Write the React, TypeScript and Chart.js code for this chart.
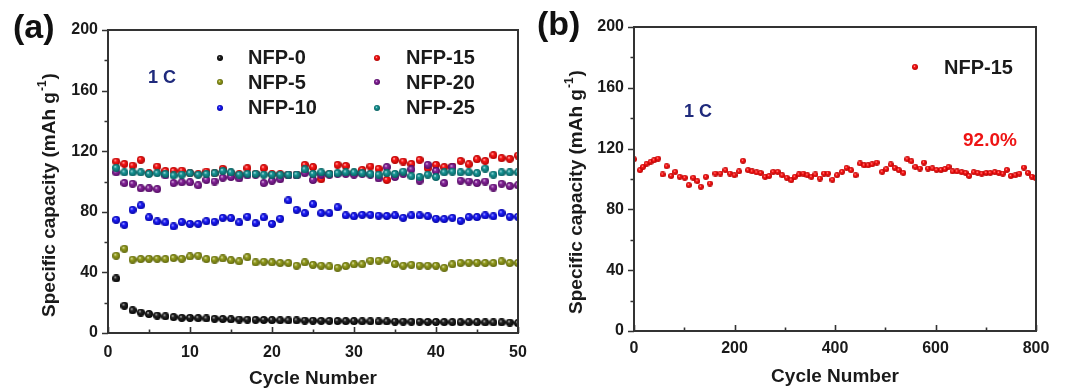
import { useEffect, useRef } from "react";
import { Chart, registerables } from "chart.js";

Chart.register(...registerables);

const FONT = '"Liberation Sans", Arial, Helvetica, sans-serif';
const TEXT = "#1a1a1a";

// ---------- Panel (a): capacity vs cycle for six samples ----------
const cyclesA = [
  1, 2, 3, 4, 5, 6, 7, 8, 9, 10, 11, 12, 13, 14, 15, 16, 17, 18, 19, 20, 21, 22, 23, 24, 25,
  26, 27, 28, 29, 30, 31, 32, 33, 34, 35, 36, 37, 38, 39, 40, 41, 42, 43, 44, 45, 46, 47, 48, 49, 50,
];
const nfp0 = [
  36, 18, 15, 13.5, 12.5, 11.5, 11, 10.5, 10, 10, 9.8, 9.6, 9.4, 9.2, 9, 8.9, 8.8, 8.7, 8.6, 8.5,
  8.4, 8.3, 8.3, 8.2, 8.1, 8, 8, 7.9, 7.8, 7.8, 7.7, 7.7, 7.6, 7.6, 7.5, 7.5, 7.4, 7.4, 7.3, 7.3,
  7.2, 7.2, 7.1, 7.1, 7.1, 7, 7, 7, 6.9, 6.5,
];
const nfp5 = [
  51, 55.6, 48.4, 48.8, 49, 49, 48.8, 49.5, 49, 50.5, 51, 48.8, 48.4, 49.2, 48, 47.3, 50, 46.6, 47, 46.6,
  46.2, 46.2, 44.4, 46.6, 45, 44.4, 44, 43, 44.2, 45.3, 45.3, 47.7, 47.7, 48.4, 45.5, 44.4, 45, 44.4, 44.4, 44.4,
  43, 45.3, 46.2, 46.4, 46.4, 46.2, 46.2, 47.3, 46.2, 46.2,
];
const nfp10 = [
  74.7, 71.4, 81.3, 84.2, 76.3, 73.6, 73, 70.3, 73.2, 72, 72, 73.8, 73.4, 76, 75.8, 73, 76.7, 72.5, 76.3, 72,
  75.4, 87.5, 81.3, 79.1, 85, 79.1, 79.1, 83, 77.6, 77, 78, 78, 77.4, 77.2, 77.6, 76, 77.6, 77.6, 77.1, 75.4,
  75.2, 76, 74, 76.5, 76.5, 77.6, 77, 79.1, 76.7, 76.7,
];
const nfp15 = [
  113.2, 111.6, 110.5, 114.3, 105.5, 109.9, 107, 107, 107.2, 105.5, 104.8, 106.6, 105.5, 108.4, 105.5, 104.8, 108.8, 105, 108.8, 104.8,
  104.8, 104.5, 104.5, 111, 109.5, 101.5, 104.8, 111, 110.3, 105.5, 107.7, 109.9, 108.4, 101, 114.3, 113.2, 111.6, 114.3, 108.8, 111,
  109.5, 109.9, 113.6, 111.4, 114.7, 113.6, 117.4, 115.4, 115, 117.1,
];
const nfp20 = [
  106, 99, 98.5, 95.5, 95.5, 95, 104, 99, 99.5, 99.5, 97.5, 101, 100, 102.5, 103, 102, 104, 104.5, 99, 100.5,
  101.5, 104, 104, 105.5, 101, 104.5, 104.5, 105, 105, 104.5, 105, 104.5, 102, 109.5, 103, 105, 108, 100.5, 111, 107,
  99, 109.5, 100.5, 100, 99, 100, 96, 98.5, 97, 97.5,
];
const nfp25 = [
  109, 106, 106, 106, 105, 105.5, 105, 104, 104.5, 105.5, 104.5, 105, 105.5, 107, 106, 104.5, 105, 105, 104.5, 104.5,
  104.5, 104.5, 104.5, 108, 105, 106, 105, 105.5, 106, 106, 105.5, 105, 104.5, 105.5, 105, 106.5, 103.5, 103, 104.5, 103,
  106, 106.5, 106, 106, 105.5, 108.5, 104.5, 106, 106, 106,
];
const labelsA = ["NFP-0", "NFP-5", "NFP-10", "NFP-15", "NFP-20", "NFP-25"];

// ---------- Panel (b): long cycling of NFP-15 ----------
const cyclesB = [
  0, 12, 18, 25, 33, 40, 48, 57, 65, 74, 82, 91, 101, 109, 118, 126, 133, 143, 151, 162, 172, 182, 191, 200,
  209, 217, 227, 235, 244, 252, 261, 269, 277, 286, 295, 304, 313, 320, 328, 337, 345, 353, 361, 370, 378, 386,
  395, 404, 414, 423, 432, 441, 450, 458, 466, 474, 483, 494, 502, 511, 519, 527, 536, 544, 552, 560, 569, 577,
  585, 594, 602, 611, 619, 626, 634, 643, 652, 660, 667, 676, 684, 692, 701, 709, 718, 726, 734, 742, 750, 759,
  767, 776, 784, 792, 800,
];
const capB = [
  113, 105.8, 108, 110, 111.3, 112.3, 113.4, 103, 108.4, 102, 104.7, 101.4, 100.8, 96, 100.8, 98.6, 94.9, 101.4, 97, 103.6,
  103.6, 105.8, 103.6, 102.5, 105, 112, 105.8, 105, 104.3, 104, 101.4, 102, 104.7, 104.7, 102.5, 100.8, 99.2, 101.4, 103, 103.6,
  102.5, 101.4, 103, 100.3, 103.6, 103.6, 99.5, 102.5, 104.7, 107.3, 105.8, 102.5, 110.2, 109, 109, 109.6, 110.8, 104.7, 106.5, 109.6,
  107.3, 105.8, 104, 113, 111.7, 108, 106.9, 110.8, 106.9, 107, 106, 106, 106.5, 108, 105, 105, 104.5, 104, 102, 104.5,
  104, 103.5, 104, 104, 104.5, 104, 103.5, 106, 102, 102.5, 103.5, 107.5, 104, 101.5, 100.5,
];
const labelB = "NFP-15";

// ---------- ticks ----------
const yTicks = [0, 40, 80, 120, 160, 200];
const yMinorTicks = [20, 60, 100, 140, 180];
const xTicksA = [0, 10, 20, 30, 40, 50];
const xMinorA = [5, 15, 25, 35, 45];
const xTicksB = [0, 200, 400, 600, 800];
const xMinorB = [100, 300, 500, 700];

// ---------- styling ----------
const colorsA: [string, string][] = [
  ["#2a2a2a", "#000000"],
  ["#9aa322", "#5f660c"],
  ["#2424ff", "#0000a8"],
  ["#ff1c1c", "#b00000"],
  ["#8c2aa0", "#520a62"],
  ["#1c9c9c", "#065e5e"],
];
const colorB: [string, string] = ["#ff1c1c", "#b80000"];

function sphere(color: string, dark: string, d: number): HTMLCanvasElement {
  const c = document.createElement("canvas");
  c.width = d;
  c.height = d;
  const ctx = c.getContext("2d")!;
  const r = d / 2;
  const g = ctx.createRadialGradient(r * 0.72, r * 0.66, 0, r, r, r);
  g.addColorStop(0, "#ffffff");
  g.addColorStop(0.3, color);
  g.addColorStop(1, dark);
  ctx.fillStyle = g;
  ctx.beginPath();
  ctx.arc(r, r, r, 0, Math.PI * 2);
  ctx.fill();
  return c;
}

function tickFont() {
  return { family: FONT, size: 16, weight: "bold" as const };
}

function drawYTitle(ctx: CanvasRenderingContext2D, cx: number, cy: number) {
  ctx.save();
  ctx.translate(cx, cy);
  ctx.rotate(-Math.PI / 2);
  ctx.fillStyle = TEXT;
  ctx.textBaseline = "middle";
  ctx.textAlign = "left";
  const main = "Specific capacity (mAh g";
  const sup = "-1";
  const end = ")";
  ctx.font = `bold 19px ${FONT}`;
  const w1 = ctx.measureText(main).width;
  const w3 = ctx.measureText(end).width;
  ctx.font = `bold 12px ${FONT}`;
  const w2 = ctx.measureText(sup).width;
  let x = -(w1 + w2 + w3) / 2;
  ctx.font = `bold 19px ${FONT}`;
  ctx.fillText(main, x, 0);
  x += w1;
  ctx.font = `bold 12px ${FONT}`;
  ctx.fillText(sup, x + 1, -7);
  x += w2 + 2;
  ctx.font = `bold 19px ${FONT}`;
  ctx.fillText(end, x, 0);
  ctx.restore();
}

type Extra = {
  id: string;
  xMinor: number[];
  panelLabel: { text: string; x: number; y: number };
  yTitle: { x: number; y: number };
  xTitle: { x: number; y: number };
  texts: { text: string; x: number; y: number; color: string; size: number }[];
  legend: { label: string; img: HTMLCanvasElement; mx: number; tx: number; y: number }[];
};

function framePlugin(e: Extra) {
  return {
    id: "frame-" + e.id,
    afterDraw(chart: any) {
      const { ctx, chartArea: a, scales } = chart;
      const xs = scales.x;
      const ys = scales.y;
      ctx.save();
      ctx.strokeStyle = "#333333";
      ctx.lineWidth = 2;
      ctx.strokeRect(a.left, a.top, a.right - a.left, a.bottom - a.top);
      ctx.lineWidth = 1.6;
      ctx.beginPath();
      yTicks.forEach((v) => {
        const py = Math.round(ys.getPixelForValue(v)) + 0.5;
        ctx.moveTo(a.left - 6, py);
        ctx.lineTo(a.left, py);
      });
      yMinorTicks.forEach((v) => {
        const py = Math.round(ys.getPixelForValue(v)) + 0.5;
        ctx.moveTo(a.left - 3.5, py);
        ctx.lineTo(a.left, py);
      });
      xs.ticks.forEach((t: any) => {
        const px = Math.round(xs.getPixelForValue(t.value)) + 0.5;
        ctx.moveTo(px, a.bottom);
        ctx.lineTo(px, a.bottom - 6);
      });
      e.xMinor.forEach((v) => {
        const px = Math.round(xs.getPixelForValue(v)) + 0.5;
        ctx.moveTo(px, a.bottom);
        ctx.lineTo(px, a.bottom - 3.5);
      });
      ctx.stroke();

      // panel label
      ctx.fillStyle = "#111111";
      ctx.textBaseline = "middle";
      ctx.textAlign = "left";
      ctx.font = `bold 34px ${FONT}`;
      ctx.fillText(e.panelLabel.text, e.panelLabel.x, e.panelLabel.y);

      // axis titles
      drawYTitle(ctx, e.yTitle.x, e.yTitle.y);
      ctx.fillStyle = TEXT;
      ctx.textAlign = "center";
      ctx.font = `bold 19px ${FONT}`;
      ctx.fillText("Cycle Number", e.xTitle.x, e.xTitle.y);

      // annotations
      ctx.textAlign = "left";
      e.texts.forEach((t) => {
        ctx.fillStyle = t.color;
        ctx.font = `bold ${t.size}px ${FONT}`;
        ctx.fillText(t.text, t.x, t.y);
      });

      // legend
      ctx.fillStyle = TEXT;
      ctx.font = `bold 20px ${FONT}`;
      e.legend.forEach((l) => {
        ctx.drawImage(l.img, Math.round(l.mx - l.img.width / 2), Math.round(l.y - l.img.height / 2));
        ctx.fillText(l.label, l.tx, l.y + 1);
      });
      ctx.restore();
    },
  };
}

function baseScales(xMax: number, xTicks: number[], xHeight: number, yWidth: number, xPad: number) {
  return {
    x: {
      type: "linear" as const,
      min: 0,
      max: xMax,
      afterBuildTicks: (s: any) => {
        s.ticks = xTicks.map((v) => ({ value: v }));
      },
      ticks: { font: tickFont(), color: TEXT, padding: xPad, maxRotation: 0, autoSkip: false },
      grid: { display: false, drawTicks: false },
      border: { display: false },
      afterFit: (s: any) => {
        s.height = xHeight;
      },
    },
    y: {
      type: "linear" as const,
      min: 0,
      max: 200,
      afterBuildTicks: (s: any) => {
        s.ticks = yTicks.map((v) => ({ value: v }));
      },
      ticks: { font: tickFont(), color: TEXT, padding: 10, autoSkip: false },
      grid: { display: false, drawTicks: false },
      border: { display: false },
      afterFit: (s: any) => {
        s.width = yWidth;
      },
    },
  };
}

function configA(): any {
  const seriesValues = [nfp0, nfp5, nfp10, nfp15, nfp20, nfp25];
  const datasets = seriesValues.map((vals, i) => ({
    label: labelsA[i],
    data: cyclesA.map((c, k) => ({ x: c, y: vals[k] })),
    pointStyle: sphere(colorsA[i][0], colorsA[i][1], 8),
    pointRadius: 4,
    showLine: false,
    order: seriesValues.length - 1 - i,
  }));
  const legendRows = [57.5, 82, 107.5];
  const legend = labelsA.map((label, i) => ({
    label,
    img: sphere(colorsA[i][0], colorsA[i][1], 6),
    mx: i < 3 ? 220 : 377,
    tx: i < 3 ? 248 : 406,
    y: legendRows[i % 3],
  }));
  const extra: Extra = {
    id: "a",
    xMinor: xMinorA,
    panelLabel: { text: "(a)", x: 13, y: 29 },
    yTitle: { x: 50, y: 196 },
    xTitle: { x: 313, y: 379 },
    texts: [{ text: "1 C", x: 148, y: 78, color: "#1f2a7c", size: 18 }],
    legend,
  };
  return {
    type: "scatter",
    data: { datasets },
    options: {
      animation: false,
      responsive: false,
      maintainAspectRatio: false,
      layout: { padding: { left: 0, right: 22, top: 30, bottom: 0 } },
      plugins: { legend: { display: false }, tooltip: { enabled: false } },
      scales: baseScales(50, xTicksA, 58, 108, 10),
    },
    plugins: [framePlugin(extra)],
  };
}

function configB(): any {
  const datasets = [
    {
      label: labelB,
      data: cyclesB.map((c, k) => ({ x: c, y: capB[k] })),
      pointStyle: sphere(colorB[0], colorB[1], 6),
      pointRadius: 3,
      showLine: false,
    },
  ];
  const extra: Extra = {
    id: "b",
    xMinor: xMinorB,
    panelLabel: { text: "(b)", x: 7, y: 26 },
    yTitle: { x: 47, y: 193 },
    xTitle: { x: 305, y: 377 },
    texts: [
      { text: "1 C", x: 154, y: 112, color: "#1f2a7c", size: 18 },
      { text: "92.0%", x: 433, y: 141, color: "#ee1414", size: 19 },
    ],
    legend: [{ label: labelB, img: sphere(colorB[0], colorB[1], 6), mx: 385, tx: 414, y: 67 }],
  };
  return {
    type: "scatter",
    data: { datasets },
    options: {
      animation: false,
      responsive: false,
      maintainAspectRatio: false,
      layout: { padding: { left: 0, right: 44, top: 27, bottom: 0 } },
      plugins: { legend: { display: false }, tooltip: { enabled: false } },
      scales: baseScales(800, xTicksB, 60, 104, 8),
    },
    plugins: [framePlugin(extra)],
  };
}

function Panel({ left, width, build }: { left: number; width: number; build: () => any }) {
  const ref = useRef<HTMLCanvasElement>(null);
  useEffect(() => {
    const chart = new Chart(ref.current!, build());
    return () => chart.destroy();
  }, []);
  return (
    <canvas
      ref={ref}
      width={width}
      height={391}
      style={{ position: "absolute", left, top: 0, width, height: 391, display: "block" }}
    />
  );
}

export default function App() {
  return (
    <div style={{ position: "fixed", left: 0, top: 0, width: 1080, height: 391, background: "#ffffff" }}>
      <Panel left={0} width={540} build={configA} />
      <Panel left={530} width={550} build={configB} />
    </div>
  );
}
